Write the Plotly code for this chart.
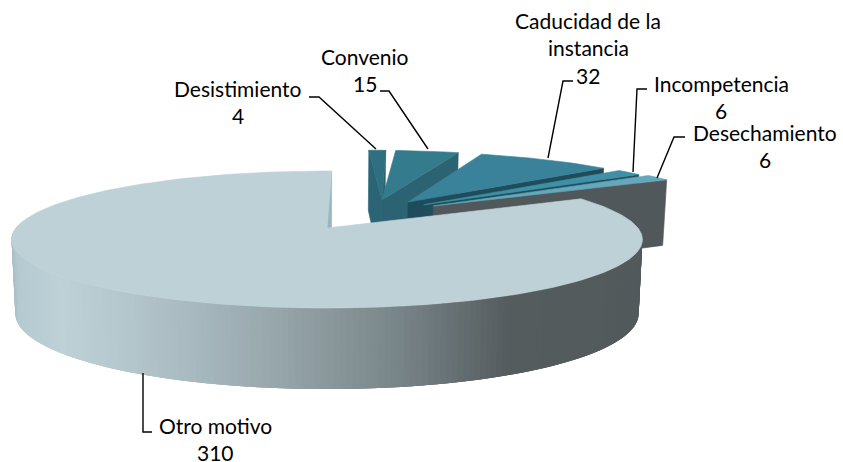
import math
import plotly.graph_objects as go

# --- data ---
categories = ["Desistimiento", "Convenio", "Caducidad de la instancia",
              "Incompetencia", "Desechamiento", "Otro motivo"]
values = [4, 15, 32, 6, 6, 310]

# --- styles ---
label_lines = [["Desistimiento"], ["Convenio"], ["Caducidad de la", "instancia"],
               ["Incompetencia"], ["Desechamiento"], ["Otro motivo"]]
label_centers = [(238, 88), (365, 56), (588, 20), (721, 83), (765, 132), (215, 425)]
LINE_STEP = 27.5
leaders = [
    [(309, 97), (319, 97), (376, 149)],
    [(380, 91), (389, 91), (428, 149)],
    [(573, 81), (563, 81), (548, 158)],
    [(647, 89), (637, 89), (633, 172)],
    [(685, 137), (674, 137), (657, 178)],
    [(143, 373), (143, 432), (152, 432)],
]
top_colors = ["#2E6F80", "#357B8E", "#3A8299", "#3F90A6", "#66A7BB", "#BDD1D7"]
wall_colors = ["#2B6475", "#2B6373", "#1F4C5A", "#1F4F5D", "#50585C", "#9DB4BC"]
offsets = [(0.19, 0.452), (0.19, 0.452), (0.279, 0.417), (0.33, 0.37), (0.362, 0.35), (0.0, 0.0)]
angle_shift = [-2.3, 0, 0, 0, 0, 0]
both_walls = [True, False, False, False, False, False]
side_stops = [(11, "#A9BEC5"), (16, "#B5CAD1"), (60, "#BDD1D7"), (130, "#B3C6CC"), (200, "#A6B7BD"),
              (270, "#98A8AD"), (330, "#8A979B"), (400, "#778488"), (450, "#687276"),
              (510, "#555C5E"), (640, "#525A5C")]

CX, CY, R, A, K = 327.0, 228.0, 311.0, 66.6, 0.168
FIRST_ANGLE = 1.0


def project(u, v, z=0.0):
    s = 1.0 / (1.0 + K * v)
    x = CX + R * u * s * (1 - 0.012 * z)
    y = CY - A * v * s + z * (72.5 - 8.5 * v)
    return x, y


def rim(off, deg, z=0.0):
    a = math.radians(deg)
    return project(off[0] + math.sin(a), off[1] + math.cos(a), z)


def hex2rgb(h):
    return tuple(int(h[i:i + 2], 16) for i in (1, 3, 5))


def side_color(x):
    for (x0, c0), (x1, c1) in zip(side_stops, side_stops[1:]):
        if x <= x1:
            t = max(0.0, (x - x0) / (x1 - x0))
            a, b = hex2rgb(c0), hex2rgb(c1)
            return "rgb(%d,%d,%d)" % tuple(round(p + (q - p) * t) for p, q in zip(a, b))
    return side_stops[-1][1]


fig = go.Figure()


def poly(pts, color, lw=0.6):
    xs = [p[0] for p in pts] + [pts[0][0]]
    ys = [p[1] for p in pts] + [pts[0][1]]
    fig.add_trace(go.Scatter(x=xs, y=ys, mode="lines", fill="toself", fillcolor=color,
                             line=dict(color=color, width=lw), hoverinfo="skip", showlegend=False))


def wall(off, deg, color):
    apex_t, apex_b = project(off[0], off[1]), project(off[0], off[1], 1)
    poly([apex_t, rim(off, deg), rim(off, deg, 1), apex_b], color)


total = sum(values)
angle = FIRST_ANGLE
for i, val in enumerate(values):
    sweep = 360.0 * val / total
    a0, a1 = angle + angle_shift[i], angle + sweep + angle_shift[i]
    angle += sweep
    off = offsets[i]
    if both_walls[i]:
        wall(off, a0, wall_colors[i])
    wall(off, a1, wall_colors[i])
    if i == len(values) - 1:
        # outer side of the large slice, shaded across the width; each strip
        # overlaps the next so that no seams show
        for d in range(85, 276):
            end = min(d + 3, 276)
            mid = rim(off, d + 0.5)
            p = [rim(off, d + (end - d) * t / 3) for t in range(4)]
            q = [rim(off, d + (end - d) * t / 3, 1) for t in range(4)]
            poly(p + q[::-1], side_color(mid[0]), lw=0)
    n = max(3, int(sweep))
    arc = [rim(off, a0 + (a1 - a0) * t / n) for t in range(n + 1)]
    poly([project(off[0], off[1])] + arc, top_colors[i])

for path in leaders:
    fig.add_trace(go.Scatter(x=[p[0] for p in path], y=[p[1] for p in path], mode="lines",
                             line=dict(color="#000000", width=1.4), hoverinfo="skip", showlegend=False))

for lines, (lx, ly), val in zip(label_lines, label_centers, values):
    for k, txt in enumerate(lines + [str(val)]):
        fig.add_annotation(x=lx, y=ly + k * LINE_STEP, text=txt, showarrow=False,
                           xanchor="center", yanchor="middle",
                           font=dict(family="Lato", size=21, color="#000000"))

fig.update_layout(
    width=843, height=462, margin=dict(l=0, r=0, t=0, b=0),
    paper_bgcolor="#FFFFFF", plot_bgcolor="#FFFFFF", showlegend=False,
    xaxis=dict(range=[0, 843], visible=False, fixedrange=True),
    yaxis=dict(range=[462, 0], visible=False, fixedrange=True),
)
fig.write_html("out.html", post_script="document.body.style.margin='0';",
               config={"displayModeBar": False})
